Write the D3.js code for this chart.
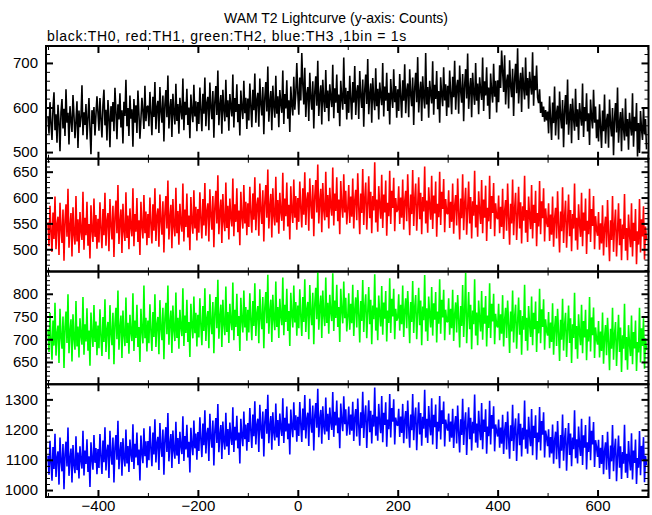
<!DOCTYPE html>
<html><head><meta charset="utf-8">
<script src="https://cdn.jsdelivr.net/npm/d3@7"></script>
<style>body{margin:0;background:#fff}svg text{font-family:"Liberation Sans",Arial,Helvetica,sans-serif}</style>
</head><body><svg id="c" width="652" height="515"></svg>
<script>
// time bins (s)
const TIME_START = -500, BIN_SIZE = 2, N_BINS = 600;
const times = d3.range(N_BINS).map(i => TIME_START + i * BIN_SIZE);

const th0 = [580,541,612,563,527,598,634,549,585,521,606,568,502,590,619,553,597,536,641,566,588,517,603,572,545,
628,582,531,570,614,509,593,556,579,650,538,589,561,608,528,577,621,551,495,594,563,601,537,584,625,
589,548,621,574,533,606,640,560,595,526,617,579,511,603,568,612,547,644,590,529,607,573,632,555,594,
519,613,581,662,558,599,536,627,575,596,512,619,566,605,543,638,586,530,574,622,591,552,649,569,601,
604,558,635,587,538,624,579,657,551,601,615,543,646,592,566,627,524,607,639,578,672,553,596,619,534,
631,588,562,653,570,608,541,622,594,573,665,549,613,583,642,561,600,531,629,592,567,651,580,614,547,
612,563,645,595,547,631,586,667,558,609,624,549,656,600,574,637,532,614,648,583,683,560,604,628,541,
640,596,569,662,578,616,548,630,601,580,674,555,621,590,652,567,608,537,638,599,574,660,587,622,552,
620,571,654,603,556,640,594,676,566,617,633,557,665,608,582,646,540,622,657,591,692,568,612,637,549,
649,604,577,671,586,625,556,639,609,588,683,563,630,598,661,575,616,545,647,607,582,669,595,631,700,
633,584,667,616,722,653,607,689,579,630,646,570,678,621,595,659,553,635,670,604,705,581,625,650,562,
662,617,590,684,599,638,569,652,622,601,696,576,643,611,674,588,629,558,660,620,595,712,608,644,573,
637,588,671,620,573,657,611,693,583,634,650,574,682,625,599,663,557,639,674,608,709,585,629,654,566,
666,621,594,688,603,642,573,656,626,605,700,580,647,615,678,592,633,562,664,624,599,686,612,648,577,
641,592,675,624,577,661,615,697,587,638,654,578,686,629,603,667,561,643,678,612,713,589,633,658,570,
670,625,598,722,607,646,577,660,630,609,704,584,651,619,682,596,637,566,668,628,603,690,616,652,581,
649,600,683,632,585,669,623,705,595,646,662,586,694,637,611,675,569,651,686,620,721,597,641,666,578,
678,633,606,700,615,654,585,668,638,617,712,592,659,627,690,604,645,574,676,636,611,698,624,660,589,
661,612,695,644,728,681,635,717,607,658,674,598,706,649,623,687,581,663,698,632,733,609,653,678,590,
690,645,618,712,627,666,597,680,650,629,724,604,671,639,694,622,610,641,588,613,579,602,568,594,571,
591,542,625,574,527,611,565,647,537,588,604,528,636,579,553,617,511,593,628,562,663,539,583,608,520,
620,575,548,642,557,596,527,610,580,559,654,534,601,569,632,546,587,516,618,578,553,640,566,602,531,
573,524,607,556,509,593,547,629,519,570,586,510,618,561,535,599,493,575,610,544,645,521,565,590,502,
598,553,526,620,535,574,505,588,558,537,632,512,579,547,610,490,565,498,592,552,527,601,540,574,506];

const th1 = [552,506,584,533,495,571,520,602,500,548,563,489,590,539,512,577,478,555,587,524,617,503,545,570,486,
581,528,509,603,515,558,493,572,535,518,611,499,561,527,592,507,549,482,585,537,514,598,524,566,501,
559,513,591,540,502,578,527,609,507,555,570,496,597,546,519,584,485,562,594,531,624,510,552,577,493,
588,535,516,610,522,565,500,579,542,525,618,506,568,534,599,514,556,489,592,544,521,605,531,573,508,
568,522,600,549,511,587,536,618,516,564,579,505,606,555,528,593,494,571,603,540,633,519,561,586,502,
597,544,525,619,531,574,509,588,551,534,627,515,577,543,608,523,565,498,601,553,530,614,540,582,517,
578,532,610,559,521,597,546,628,526,574,589,515,616,565,538,603,504,581,613,550,643,529,571,596,512,
607,554,535,629,541,584,519,598,561,544,637,525,587,553,618,533,575,508,611,563,540,624,550,592,527,
589,543,621,570,532,608,557,639,537,585,600,526,627,576,549,614,515,592,624,561,654,540,582,607,523,
618,565,546,640,552,595,530,609,572,555,648,536,598,564,629,544,586,519,622,574,551,635,561,603,538,
599,553,631,580,542,618,567,649,547,595,610,536,637,586,559,624,525,602,634,571,664,550,592,617,533,
628,575,556,650,562,605,540,619,582,565,658,546,608,574,639,554,596,529,632,584,561,645,571,613,548,
578,624,551,602,563,637,540,594,615,556,647,581,529,608,570,655,547,598,629,538,586,641,560,611,531,
603,575,668,552,596,534,622,583,559,644,541,606,571,633,526,590,564,652,549,613,580,638,535,599,572,
576,622,549,600,561,635,538,592,613,554,645,579,527,606,568,653,545,596,627,536,584,639,558,609,529,
601,573,660,550,594,532,620,581,557,642,539,604,569,631,524,588,562,650,547,611,578,636,533,597,570,
568,614,541,592,553,627,530,584,605,546,637,571,519,598,560,645,537,588,619,528,576,631,550,601,521,
593,565,652,542,586,524,612,573,549,634,531,596,561,623,516,580,554,642,539,603,570,628,525,589,562,
558,604,531,582,543,617,520,574,595,536,627,561,509,588,550,635,527,578,609,518,566,621,540,591,511,
583,555,642,532,576,514,602,563,539,624,521,586,551,613,506,570,544,632,529,593,560,618,515,579,552,
543,589,516,567,528,602,505,559,580,521,612,546,494,573,535,620,512,563,594,503,551,606,525,576,496,
568,540,627,517,561,499,587,548,524,609,506,571,536,598,491,555,529,617,514,578,545,603,500,564,537,
526,572,499,550,511,585,488,542,563,504,595,529,477,556,518,603,495,546,577,486,534,589,508,559,479,
548,520,607,497,541,479,567,528,504,589,486,551,516,578,471,535,509,597,494,558,525,583,480,544,517];

const th2 = [722,672,758,699,655,741,686,780,664,713,730,648,767,704,679,750,637,726,761,692,799,669,717,744,651,
755,701,677,784,684,728,660,746,707,688,793,666,733,695,768,675,719,642,759,710,683,775,694,739,665,
730,680,766,707,663,749,694,788,672,721,738,656,775,712,687,758,645,734,769,700,807,677,725,752,659,
763,709,685,792,692,736,668,754,715,696,801,674,741,703,776,683,727,650,767,718,691,818,702,747,673,
741,691,777,718,674,760,705,799,683,732,749,667,786,723,698,769,656,745,780,711,818,688,736,763,670,
774,720,696,803,703,747,679,765,726,707,812,685,752,714,787,694,738,661,778,729,702,794,713,758,684,
754,704,790,731,687,773,718,812,696,745,762,680,799,736,711,782,669,758,793,724,831,701,749,776,683,
787,733,709,816,716,760,692,778,739,720,825,698,765,727,800,707,751,674,791,742,715,807,726,771,697,
765,715,801,742,698,784,729,823,707,756,773,691,810,747,722,793,680,769,804,735,842,712,760,787,694,
798,744,720,827,727,771,703,789,750,731,836,709,776,738,811,718,762,685,802,753,726,818,737,782,708,
774,724,810,751,707,793,738,832,716,765,782,700,819,756,731,802,689,778,813,744,848,721,769,796,703,
807,753,729,836,736,780,712,798,759,740,845,718,785,747,820,727,771,694,811,762,735,827,746,791,717,
749,801,721,778,735,820,707,765,792,726,808,756,693,784,740,830,716,772,799,702,759,815,733,787,689,
774,744,843,719,770,698,796,754,728,817,710,781,745,806,695,763,736,834,714,789,750,811,700,767,741,
747,799,719,776,733,818,705,763,790,724,806,754,691,782,738,828,714,770,797,700,757,813,731,785,687,
772,742,841,717,768,696,794,752,726,815,708,779,743,804,693,761,734,832,712,787,748,809,698,765,739,
738,790,710,767,724,809,696,754,781,715,797,745,682,773,729,819,705,761,846,691,748,804,722,776,678,
763,733,832,708,759,687,785,743,717,806,699,770,734,795,684,752,725,823,703,778,739,800,689,756,730,
726,778,698,755,712,797,684,742,769,703,785,733,670,761,717,807,693,749,776,679,736,792,710,764,666,
751,721,820,696,747,675,773,731,705,794,687,758,722,783,672,740,713,811,691,766,727,788,677,744,718,
708,760,680,737,694,779,666,724,751,685,767,715,652,743,699,789,675,731,758,661,718,774,692,746,648,
733,703,802,678,729,657,755,713,687,776,669,740,704,765,654,722,695,793,673,748,709,770,659,726,700,
688,740,660,717,674,759,646,704,731,665,747,695,632,723,679,769,655,711,738,641,698,754,672,726,628,
709,679,778,654,705,633,731,689,663,752,645,716,680,741,630,694,671,769,649,724,685,746,635,702,676];

const th3 = [1114,1051,1163,1089,1031,1142,1070,1186,1043,1107,1128,1018,1174,1095,1062,1152,1003,1118,1160,1078,1207,1047,1104,1137,1025,
1149,1083,1056,1178,1066,1124,1038,1145,1097,1071,1196,1048,1131,1086,1168,1060,1112,1010,1158,1101,1067,1182,1090,1139,1052,
1136,1073,1185,1111,1053,1164,1092,1208,1065,1129,1150,1040,1196,1117,1084,1174,1025,1140,1182,1100,1229,1069,1126,1159,1047,
1171,1105,1078,1200,1088,1146,1060,1167,1119,1093,1218,1070,1153,1108,1190,1082,1134,1032,1180,1123,1089,1204,1112,1161,1074,
1162,1099,1211,1137,1079,1190,1118,1234,1091,1155,1176,1066,1222,1143,1110,1200,1051,1166,1208,1126,1255,1095,1152,1185,1073,
1197,1131,1104,1226,1114,1172,1086,1193,1145,1119,1244,1096,1179,1134,1216,1108,1160,1058,1206,1149,1115,1230,1138,1187,1100,
1192,1129,1241,1167,1109,1220,1148,1264,1121,1185,1206,1096,1252,1173,1140,1230,1081,1196,1238,1156,1285,1125,1182,1215,1103,
1227,1161,1134,1256,1144,1202,1116,1223,1175,1149,1274,1126,1209,1164,1246,1138,1190,1088,1236,1179,1145,1260,1168,1217,1130,
1222,1159,1271,1197,1139,1250,1178,1294,1151,1215,1236,1126,1282,1203,1170,1260,1111,1226,1268,1186,1315,1155,1212,1245,1133,
1257,1191,1164,1286,1174,1232,1146,1253,1205,1179,1304,1156,1239,1194,1276,1168,1220,1118,1266,1209,1175,1290,1198,1247,1160,
1242,1179,1291,1217,1159,1270,1198,1314,1171,1235,1256,1146,1302,1223,1190,1280,1131,1246,1288,1206,1335,1175,1232,1265,1153,
1277,1211,1184,1306,1194,1252,1166,1273,1225,1199,1324,1176,1259,1214,1296,1188,1240,1138,1286,1229,1195,1310,1218,1267,1180,
1220,1276,1183,1250,1196,1292,1162,1238,1268,1177,1303,1214,1147,1257,1205,1325,1172,1244,1280,1139,1229,1297,1191,1262,1154,
1249,1210,1339,1180,1243,1163,1285,1222,1188,1311,1158,1256,1215,1290,1143,1233,1201,1318,1174,1271,1226,1300,1151,1240,1217,
1213,1269,1176,1243,1189,1285,1155,1231,1261,1170,1296,1207,1140,1250,1198,1318,1165,1237,1273,1132,1222,1290,1184,1255,1147,
1242,1203,1332,1173,1236,1156,1278,1215,1181,1304,1151,1249,1208,1283,1136,1226,1194,1311,1167,1264,1219,1293,1144,1233,1210,
1197,1253,1160,1227,1173,1269,1139,1215,1245,1154,1280,1191,1124,1234,1182,1302,1149,1221,1257,1116,1206,1274,1168,1239,1131,
1226,1187,1316,1157,1220,1140,1262,1199,1165,1288,1135,1233,1192,1267,1120,1210,1178,1295,1151,1248,1203,1277,1128,1217,1194,
1177,1233,1140,1207,1153,1249,1119,1195,1225,1134,1260,1171,1104,1214,1162,1282,1129,1201,1237,1096,1186,1254,1148,1219,1111,
1206,1167,1296,1137,1200,1120,1242,1179,1145,1268,1115,1213,1172,1247,1100,1190,1158,1275,1131,1228,1183,1257,1108,1197,1174,
1145,1201,1108,1175,1121,1217,1087,1163,1193,1102,1228,1139,1072,1182,1130,1250,1097,1169,1205,1064,1154,1222,1116,1187,1079,
1174,1135,1264,1105,1168,1088,1210,1147,1113,1236,1083,1181,1140,1215,1068,1158,1126,1243,1099,1196,1151,1225,1076,1165,1142,
1110,1166,1073,1140,1086,1182,1052,1128,1158,1067,1193,1104,1037,1147,1095,1215,1062,1134,1170,1029,1112,1180,1074,1145,1037,
1126,1087,1216,1057,1120,1040,1162,1099,1065,1188,1035,1131,1090,1167,1020,1106,1074,1195,1049,1146,1101,1175,1026,1113,1082];

const seriesNames = ["TH0", "TH1", "TH2", "TH3"];
const seriesValues = [th0, th1, th2, th3];
const seriesColors = ["#000000", "#ff0000", "#00ff00", "#0000ff"];
const yDomains = [[485, 738], [457, 675], [601, 849], [977, 1350]];
const yMajorStep = [100, 50, 50, 100];
const yMinorStep = [20, 10, 10, 20];
const xMajorTicks = [-400, -200, 0, 200, 400, 600];
const xMinorStep = 100;
const titleText = "WAM T2 Lightcurve (y-axis: Counts)";
const subtitleText = "black:TH0, red:TH1, green:TH2, blue:TH3 ,1bin = 1s";

const svg = d3.select("#c");
const L = 46, R = 648.5, T = 46, B = 497;
const ph = (B - T) / 4;
const x = d3.scaleLinear().domain([-504, 702]).range([L, R]);
const xMinor = d3.range(-500, 701, xMinorStep).filter(v => !xMajorTicks.includes(v));
const fmt = v => (v < 0 ? "\u2212" + Math.abs(v) : String(v));

svg.append("text").attr("x", 336).attr("y", 23).attr("text-anchor", "middle")
  .attr("font-size", 14).text(titleText);
svg.append("text").attr("x", 47).attr("y", 41).attr("font-size", 14)
  .attr("letter-spacing", 0.7).text(subtitleText);

function styleAxis(g, w) {
  g.select(".domain").remove();
  g.selectAll(".tick line").attr("stroke", "#000").attr("stroke-width", w);
  g.selectAll(".tick text").attr("font-size", 15).attr("fill", "#000")
    .attr("font-family", '"Liberation Sans",Arial,sans-serif');
}

seriesValues.forEach((vals, i) => {
  const top = T + i * ph, bot = top + ph;
  const y = d3.scaleLinear().domain(yDomains[i]).range([bot, top]);
  const cid = "clip" + i;
  svg.append("clipPath").attr("id", cid).append("rect")
    .attr("x", L).attr("y", top).attr("width", R - L).attr("height", ph);
  const line = d3.line().x((d, k) => x(times[k])).y(d => y(d));
  svg.append("path").datum(vals).attr("clip-path", `url(#${cid})`)
    .attr("fill", "none").attr("stroke", seriesColors[i]).attr("stroke-width", 1.6)
    .attr("stroke-linejoin", "bevel")
    .attr("d", line);

  const d0 = yDomains[i][0], d1 = yDomains[i][1];
  const majors = d3.range(Math.ceil(d0 / yMajorStep[i]) * yMajorStep[i], d1 + 0.01, yMajorStep[i]);
  const minors = d3.range(Math.ceil(d0 / yMinorStep[i]) * yMinorStep[i], d1 + 0.01, yMinorStep[i])
    .filter(v => v % yMajorStep[i] !== 0);

  svg.append("g").attr("transform", `translate(${L},0)`)
    .call(d3.axisLeft(y).tickValues(majors).tickSizeInner(-7).tickSizeOuter(0).tickPadding(8).tickFormat(fmt))
    .call(g => styleAxis(g, 2));
  svg.append("g").attr("transform", `translate(${L},0)`)
    .call(d3.axisLeft(y).tickValues(minors).tickSizeInner(-4).tickSizeOuter(0).tickFormat(""))
    .call(g => styleAxis(g, 1));
  svg.append("g").attr("transform", `translate(${R},0)`)
    .call(d3.axisRight(y).tickValues(majors).tickSizeInner(-7).tickSizeOuter(0).tickFormat(""))
    .call(g => styleAxis(g, 2));
  svg.append("g").attr("transform", `translate(${R},0)`)
    .call(d3.axisRight(y).tickValues(minors).tickSizeInner(-4).tickSizeOuter(0).tickFormat(""))
    .call(g => styleAxis(g, 1));

  svg.append("g").attr("transform", `translate(0,${top})`)
    .call(d3.axisTop(x).tickValues(xMajorTicks).tickSizeInner(-7).tickSizeOuter(0).tickFormat(""))
    .call(g => styleAxis(g, 2));
  svg.append("g").attr("transform", `translate(0,${top})`)
    .call(d3.axisTop(x).tickValues(xMinor).tickSizeInner(-4).tickSizeOuter(0).tickFormat(""))
    .call(g => styleAxis(g, 1));
  svg.append("g").attr("transform", `translate(0,${bot})`)
    .call(d3.axisBottom(x).tickValues(xMajorTicks).tickSizeInner(-7).tickSizeOuter(0).tickPadding(3)
      .tickFormat(i === 3 ? fmt : ""))
    .call(g => styleAxis(g, 2));
  svg.append("g").attr("transform", `translate(0,${bot})`)
    .call(d3.axisBottom(x).tickValues(xMinor).tickSizeInner(-4).tickSizeOuter(0).tickFormat(""))
    .call(g => styleAxis(g, 1));

  svg.append("rect").attr("x", L).attr("y", top).attr("width", R - L).attr("height", ph)
    .attr("fill", "none").attr("stroke", "#000").attr("stroke-width", 2);
});
</script></body></html>
